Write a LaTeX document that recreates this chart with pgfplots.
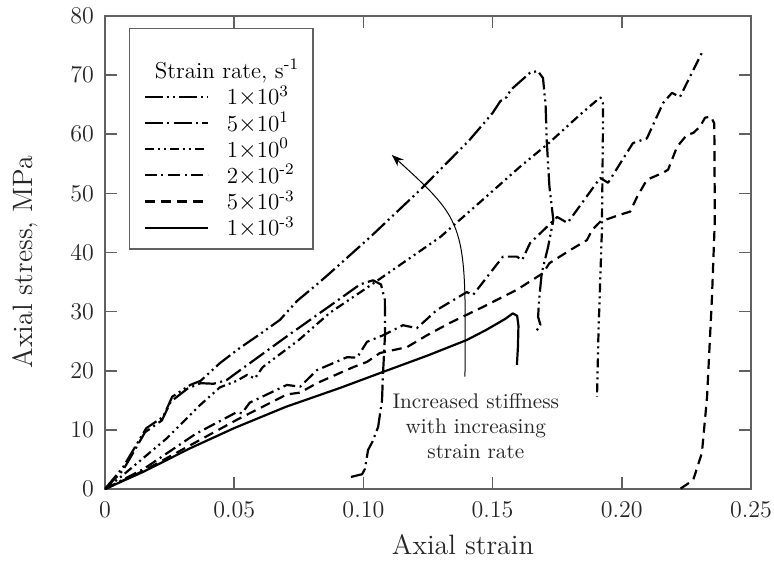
\documentclass[border=0pt]{standalone}
\usepackage{pgfplots}
\pgfplotsset{compat=1.18}
\usetikzlibrary{arrows.meta}
\newcommand{\ls}{\rule[-3.4pt]{0pt}{12.4pt}}
\begin{document}
\begin{tikzpicture}
\begin{axis}[
  name=ax,
  scale only axis,
  width=323pt, height=236.5pt,
  xmin=0, xmax=0.25, ymin=0, ymax=80,
  xtick={0,0.05,0.10,0.15,0.20,0.25},
  xticklabels={0,0.05,0.10,0.15,0.20,0.25},
  ytick={0,10,...,80},
  tick align=inside,
  major tick length=6pt,
  axis line style={black!62, line width=0.75pt},
  every tick/.style={black!62, line width=0.75pt},
  tick label style={font=\fontsize{12}{14}\selectfont, text=black!85},
  xticklabel style={yshift=-2.5pt},
  yticklabel style={xshift=-2pt},
  xlabel={Axial strain},
  ylabel={Axial stress, MPa},
  label style={font=\fontsize{14}{17}\selectfont, text=black!85},
  xlabel style={at={(axis description cs:0.554,-0.1395)}, anchor=base},
  ylabel style={at={(axis description cs:-0.124,0.48)}, anchor=center},
  legend cell align=left,
  legend style={at={(0.0372,0.9746)}, anchor=north west, draw=black!62, line width=0.65pt,
    font=\fontsize{11.5}{13}\selectfont, row sep=1.9pt, column sep=9pt,
    inner xsep=7pt, inner ysep=5pt, nodes={inner sep=0pt}},
  legend image code/.code={\draw[#1, line width=1.1pt] (0pt,0pt) -- (31.5pt,0pt);},
  every axis plot/.append style={line width=1.1pt, black, line join=round, line cap=butt},
]
\addlegendimage{empty legend}
\addlegendentry{\hspace{-36pt}\rule[-2.75pt]{0pt}{22.75pt}\fontsize{11.5}{13}\selectfont Strain rate, s\textsuperscript{-1}}

% 1e3
\addplot[dash pattern=on 9pt off 2pt on 1pt off 2pt on 1pt off 2pt] coordinates {
(0,0) (0.007,3.7) (0.016,10.3) (0.0225,12.2) (0.026,15.6) (0.033,17.6) (0.037,18.3)
(0.0445,21.3) (0.052,23.8) (0.06,26.2) (0.0677,28.6) (0.0743,31.8) (0.082,34.6)
(0.087,36.5) (0.1026,42.6) (0.122,50.6) (0.141,59) (0.150,63.6) (0.153,65.6)
(0.1555,66.3) (0.157,67.5) (0.1645,70.4) (0.1675,70.7) (0.1695,69.5) (0.1705,65)
(0.171,58.5) (0.172,51.1) (0.1735,45.5) (0.1715,41) (0.169,36.5) (0.168,32)
(0.1676,29.1) (0.1685,27.8) (0.1665,26.4)};
\addlegendentry{\ls 1$\times$10\textsuperscript{3}}

% 5e1
\addplot[dash pattern=on 9pt off 2.2pt on 1pt off 2.2pt] coordinates {
(0,0) (0.007,3.2) (0.0155,9.6) (0.022,11.6) (0.0255,14.8) (0.032,17) (0.037,17.9)
(0.042,17.8) (0.047,18.4) (0.052,20) (0.07,25.7) (0.091,32.2) (0.0987,34.6)
(0.1037,35.3) (0.1068,34.6) (0.1083,32) (0.1084,26.4) (0.1076,19.6) (0.1072,15)
(0.1057,10.5) (0.1035,8) (0.1018,6.6) (0.1006,3.4) (0.0995,2.5) (0.0948,2)};
\addlegendentry{\ls 5$\times$10\textsuperscript{1}}

% 1e0
\addplot[dash pattern=on 4.5pt off 2pt on 1pt off 2pt on 1pt off 2pt] coordinates {
(0,0) (0.006,2) (0.024,8.6) (0.0368,14.2) (0.0445,17.2) (0.051,18.3) (0.055,19.3)
(0.058,18.7) (0.061,20.6) (0.075,25.2) (0.087,29.8) (0.1026,34.4) (0.1297,42.6)
(0.1451,48.5) (0.1606,54.5) (0.172,58.6) (0.1838,63.3) (0.1905,65.8) (0.1918,66.2)
(0.1927,65.2) (0.1927,60.7) (0.1923,43.8) (0.191,26.9) (0.1904,15.6)};
\addlegendentry{\ls 1$\times$10\textsuperscript{0}}

% 2e-2
\addplot[dash pattern=on 6pt off 2.3pt on 1pt off 2.3pt] coordinates {
(0,0) (0.015,3.4) (0.035,9.3) (0.051,13) (0.053,12.8) (0.056,14.6) (0.0704,17.6)
(0.0755,17.3) (0.082,20.1) (0.0937,22.3) (0.0975,22.2) (0.1014,24.9) (0.1076,26)
(0.1153,27.7) (0.1207,27.2) (0.1285,30.3) (0.14,33.3) (0.1424,32.8) (0.154,39.3)
(0.1594,39.3) (0.1614,38.7) (0.1645,41.6) (0.175,46) (0.179,45) (0.1916,52.6)
(0.1947,51.8) (0.2043,58.5) (0.2097,59.3) (0.216,65.3) (0.2194,67) (0.2225,66.3)
(0.231,73.8)};
\addlegendentry{\ls 2$\times$10\textsuperscript{-2}}

% 5e-3
\addplot[dash pattern=on 5pt off 3pt] coordinates {
(0,0) (0.015,3.1) (0.033,7.4) (0.051,11.7) (0.0704,16) (0.0755,16.3) (0.082,17.9)
(0.096,20.6) (0.1014,21.5) (0.1064,23) (0.1169,24) (0.1246,26) (0.1335,28.1)
(0.1463,30.8) (0.1594,33.7) (0.1695,36.5) (0.172,38.2) (0.18,40.4) (0.1865,42.1)
(0.1885,43.8) (0.1916,45.2) (0.1993,46.4) (0.2032,46.9) (0.2059,49.4) (0.2097,52.3)
(0.216,53.5) (0.2179,54) (0.2214,57.9) (0.2252,59.9) (0.2276,60.2) (0.2303,61.3)
(0.2322,62.8) (0.2345,63) (0.2358,61.8) (0.236,45.5) (0.2349,32.5) (0.233,15.6)
(0.231,6.1) (0.2276,1.5) (0.2225,0)};
\addlegendentry{\ls 5$\times$10\textsuperscript{-3}}

% 1e-3
\addplot[solid] coordinates {
(0,0) (0.0148,2.9) (0.033,6.9) (0.05,10.3) (0.07,13.9) (0.091,17.1) (0.1076,19.8)
(0.125,22.6) (0.14,25.2) (0.1475,26.9) (0.155,28.8) (0.1578,29.7) (0.1595,29.3)
(0.16,27.6) (0.1598,24) (0.1594,21)};
\addlegendentry{\ls 1$\times$10\textsuperscript{-3}}

\draw[-{Stealth[length=6pt,width=4.5pt]}, line width=0.5pt, black]
  (axis cs:0.1393,19) .. controls (axis cs:0.1398,45) .. (axis cs:0.111,56.5);
\node[align=center, font=\fontsize{10.6}{12.5}\selectfont, text=black!85]
  at (axis cs:0.1435,10.7) {Increased stiffness\\with increasing\\strain rate};
\end{axis}
\pgfresetboundingbox
\path ([shift={(-52.5pt,-36.5pt)}]ax.south west) rectangle ([shift={(11.5pt,8pt)}]ax.north east);
\end{tikzpicture}
\end{document}
